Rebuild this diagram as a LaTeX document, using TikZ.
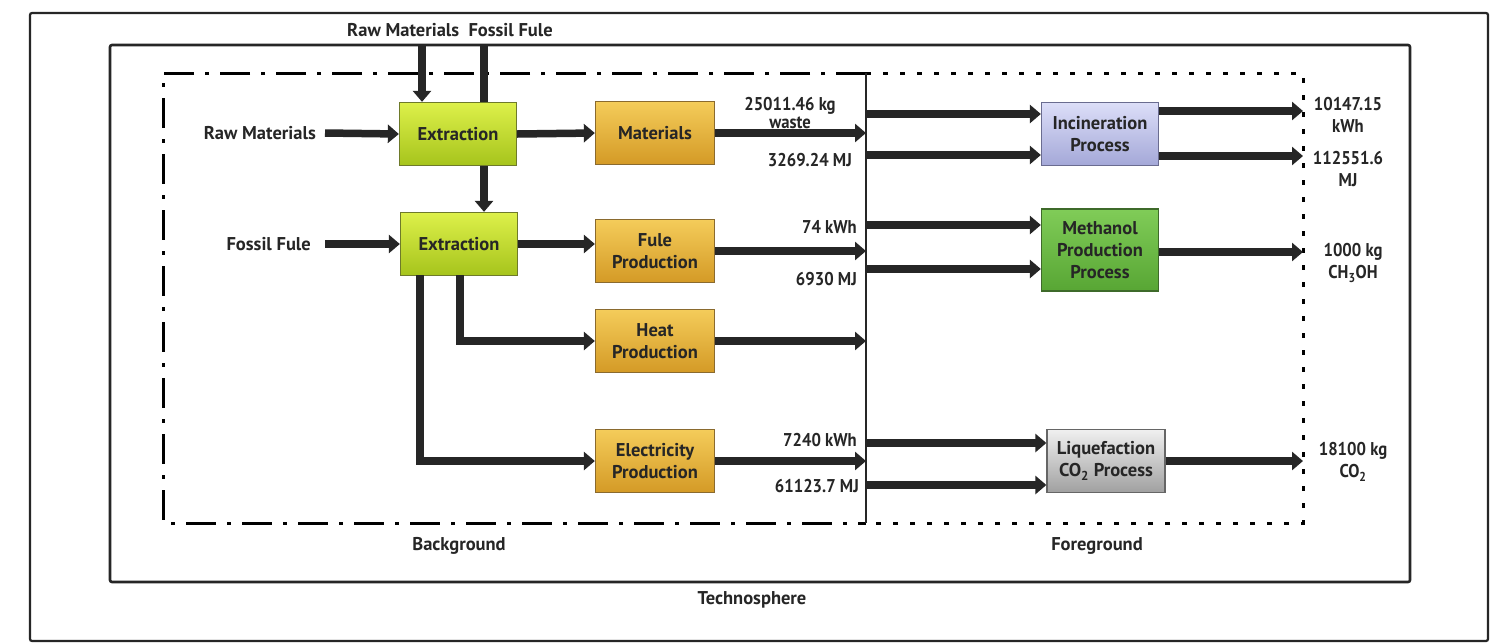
\documentclass[tikz,border=0pt]{standalone}
\usepackage{fontspec}
\setmainfont{PT Sans}
\newfontfamily\numfont[FakeStretch=0.9]{PT Sans}
\usetikzlibrary{arrows.meta,calc}
\definecolor{txt}{HTML}{262626}
\definecolor{limeT}{HTML}{DDF04A}
\definecolor{limeB}{HTML}{A6C41C}
\definecolor{limeD}{HTML}{6E7A2A}
\definecolor{goldT}{HTML}{F4CC5A}
\definecolor{goldB}{HTML}{D49A26}
\definecolor{goldD}{HTML}{8A6A2E}
\definecolor{lavT}{HTML}{DCDEF8}
\definecolor{lavB}{HTML}{A4A8D8}
\definecolor{lavD}{HTML}{6A6C90}
\definecolor{grnT}{HTML}{80CC58}
\definecolor{grnB}{HTML}{58A634}
\definecolor{grnD}{HTML}{3E6A2A}
\definecolor{gryT}{HTML}{F0F0F0}
\definecolor{gryB}{HTML}{A0A0A0}
\definecolor{gryD}{HTML}{666666}
\begin{document}
\begin{tikzpicture}[x=1pt,y=-1pt,
  every node/.style={font=\fontsize{18.5}{22}\selectfont\bfseries, text=txt},
  box/.style={draw, line width=1.3pt, minimum width=117pt, minimum height=63pt, align=center, inner sep=1pt},
  limebox/.style={box, draw=limeD, top color=limeT, bottom color=limeB},
  goldbox/.style={box, draw=goldD, top color=goldT, bottom color=goldB},
  lavbox/.style={box, draw=lavD, top color=lavT, bottom color=lavB},
  grnbox/.style={box, draw=grnD, top color=grnT, bottom color=grnB},
  grybox/.style={box, draw=gryD, top color=gryT, bottom color=gryB},
  flow/.style={draw=txt, line width=7.5pt, -{Triangle[width=18pt,length=11pt]}},
  flowline/.style={draw=txt, line width=7.5pt},
  lbl/.style={align=center, inner sep=0pt},
  numlbl/.style={lbl, font=\fontsize{18.5}{22}\selectfont\numfont\bfseries},
  frame/.style={draw=txt, line width=2.6pt},
  bgline/.style={draw=black, line width=3pt, dash pattern=on 30pt off 11pt on 4pt off 11pt},
  fgline/.style={draw=black, line width=3pt, dash pattern=on 5pt off 12pt},
]
\useasboundingbox (0,0) rectangle (1495,643);
\fill[white] (0,0) rectangle (1495,643);
% frames
\draw[frame, line width=2.2pt, rounded corners=2pt] (30,13) rectangle (1488,641);
\draw[frame, rounded corners=2pt] (110,45) rectangle (1410,582);
\draw[bgline] (866,73) -- (163,73) -- (163,523) -- (866,523);
\draw[fgline] (866,73) -- (1303,73) -- (1303,523) -- (866,523);
\draw[draw=txt, line width=2.5pt] (866,73) coordinate (splT) -- (866,523) coordinate (splB);

\node[lbl] (tplbl) at (450,30) {Raw Materials\ \ Fossil Fule};
\node[lbl] (bglbl) at (459,546) {Background};
\node[lbl] (fglbl) at (1097,546) {Foreground};
\node[lbl] (tslbl) at (752,600) {Technosphere};

% nodes
\node[limebox] (ext1) at (458,134) {Extraction};
\node[limebox] (ext2) at (459,244) {Extraction};
\node[goldbox, minimum width=119pt] (mat) at (655,133) {Materials};
\node[goldbox, minimum width=119pt] (fule) at (655,251) {Fule\\Production};
\node[goldbox, minimum width=119pt] (heat) at (655,341) {Heat\\Production};
\node[goldbox, minimum width=119pt] (elec) at (655,461) {Electricity\\Production};
\node[lavbox] (inc) at (1100,134) {Incineration\\Process};
\node[grnbox, minimum height=82pt] (meth) at (1100,250) {Methanol\\Production\\Process};
\node[grybox, minimum width=118pt] (liq) at (1106,461) {Liquefaction\\CO\textsubscript{2} Process};

\node[lbl, anchor=east] (rawin) at (316,133) {Raw Materials};
\node[lbl, anchor=east] (fosin) at (311,244) {Fossil Fule};

% inputs
\draw[flow] (rawin.east) ++(9,0) coordinate (rawS) -- (ext1.west);
\draw[flow] (fosin.east) ++(14,0) coordinate (fosS) -- (ext2.west);
\coordinate (topRaw) at (422,45);
\coordinate (topFos) at (484,45);
\draw[flow] (topRaw) -- (topRaw |- ext1.north);
\draw[flowline] (topFos) -- (topFos |- ext1.north);
\draw[flow] (topFos |- ext1.south) -- (topFos |- ext2.north);

% background flows
\draw[flow] (ext1.east) -- (mat.west);
\draw[flow] (ext2.east) -- (fule.west |- ext2.east);
\draw[flow] (460,275) |- (heat.west);
\draw[flow] (420,275) |- (elec.west);

\draw[flow] (mat.east) -- (splT |- mat.east);
\draw[flow] (fule.east) -- (splT |- fule.east);
\draw[flow] (heat.east) -- (splT |- heat.east);
\draw[flow] (elec.east) -- (splT |- elec.east);

\node[numlbl] (l1) at (790,113) {25011.46 kg\\[-4pt]waste};
\node[numlbl, anchor=east] (l2) at (852,160) {3269.24 MJ};
\node[numlbl, anchor=east] (l3) at (857,227) {74 kWh};
\node[numlbl, anchor=east] (l4) at (857,279) {6930 MJ};
\node[numlbl, anchor=east] (l5) at (857,440) {7240 kWh};
\node[numlbl, anchor=east] (l6) at (859,486) {61123.7 MJ};

% foreground flows
\draw[flow] (867,114) -- (inc.west |- 0,114);
\draw[flow] (867,155) -- (inc.west |- 0,155);
\draw[flow] (867,225) -- (meth.west |- 0,225);
\draw[flow] (867,269) -- (meth.west |- 0,269);
\draw[flow] (867,443) -- (liq.west |- 0,443);
\draw[flow] (867,485) -- (liq.west |- 0,485);

\coordinate (o1) at (1303,111);
\coordinate (o2) at (1303,156);
\coordinate (o3) at (1303,252);
\coordinate (o4) at (1303,461);
\draw[flow] (inc.east |- o1) -- (o1);
\draw[flow] (inc.east |- o2) -- (o2);
\draw[flow] (meth.east |- o3) -- (o3);
\draw[flow] (liq.east) -- (o4);

\node[numlbl] (r1) at (1348,115) {10147.15\\kWh};
\node[numlbl] (r2) at (1348,169) {112551.6\\MJ};
\node[numlbl] (r3) at (1353,263) {1000 kg\\CH\textsubscript{3}OH};
\node[numlbl] (r4) at (1353,462) {18100 kg\\CO\textsubscript{2}};
\end{tikzpicture}
\end{document}
